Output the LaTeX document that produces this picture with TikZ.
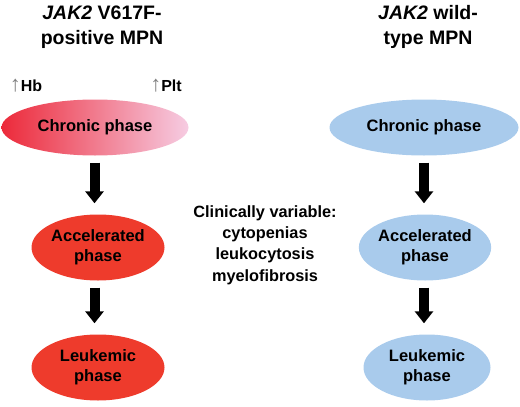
\documentclass[tikz,border=0pt]{standalone}
\usepackage{fontspec}
\setmainfont{Liberation Sans}
\usetikzlibrary{shapes.geometric,arrows.meta}
\definecolor{mpnred}{HTML}{EE3B2C}
\definecolor{chronred}{HTML}{EC2A3A}
\definecolor{chronpink}{HTML}{F6CCE2}
\definecolor{wtblue}{HTML}{A9CBEC}
\newcommand{\uparr}{{\color{gray}\mdseries\fontsize{22}{22}\selectfont↑}}
\tikzset{
  phase/.style={ellipse, inner sep=0pt, align=center,
    font=\bfseries\fontsize{16.5}{20}\selectfont},
  redphase/.style={phase, fill=mpnred, minimum width=133pt, minimum height=66pt},
  bluephase/.style={phase, fill=wtblue, minimum width=127pt, minimum height=66pt},
  heading/.style={align=center, font=\bfseries\fontsize{19.5}{25}\selectfont},
  fatarrow/.style={line width=10pt, -{Triangle[width=18pt,length=12pt]},
    shorten <=7pt, shorten >=11pt}
}
\begin{document}
\begin{tikzpicture}[x=1pt, y=-1pt, node distance=120pt]
        \useasboundingbox (0,0) rectangle (520,407);
        \node[heading] (tl) at (102,27) {\textit{JAK2} V617F-\\positive MPN};
        \node[heading] (tr) at (428,27) {\textit{JAK2} wild-\\type MPN};
        \node[phase, left color=chronred, right color=chronpink,
          minimum width=187pt, minimum height=56pt] (cl) at (95,127.5) {Chronic phase};
        \node[phase, fill=wtblue, minimum width=189pt, minimum height=56pt]
          (cr) at (424,127.5) {Chronic phase};
        \node[redphase, below of=cl, xshift=3pt] (al) {Accelerated\\phase};
        \node[redphase, below of=al] (ll) {Leukemic\\phase};
        \node[bluephase, below of=cr, xshift=1pt] (ar) {Accelerated\\phase};
        \node[bluephase, below of=ar, xshift=2pt] (lr) {Leukemic\\phase};
        \node[font=\bfseries\fontsize{16}{20}\selectfont] (hb) at (26,86)
          {\uparr Hb};
        \node[font=\bfseries\fontsize{16}{20}\selectfont] (plt) at (166,86)
          {\uparr Plt};
        \node[align=center, font=\bfseries\fontsize{16.3}{21.3}\selectfont] (mid) at (265,245)
          {Clinically variable:\\cytopenias\\leukocytosis\\myelofibrosis};
        \draw[fatarrow] (cl.south -| 94.5,0) -- (al.north -| 94.5,0);
        \draw[fatarrow] (al.south -| 94.5,0) -- (ll.north -| 94.5,0);
        \draw[fatarrow] (cr.south) -- (ar.north -| cr.south);
        \draw[fatarrow] (ar.south -| cr.south) -- (lr.north -| cr.south);
      \end{tikzpicture}
\end{document}
